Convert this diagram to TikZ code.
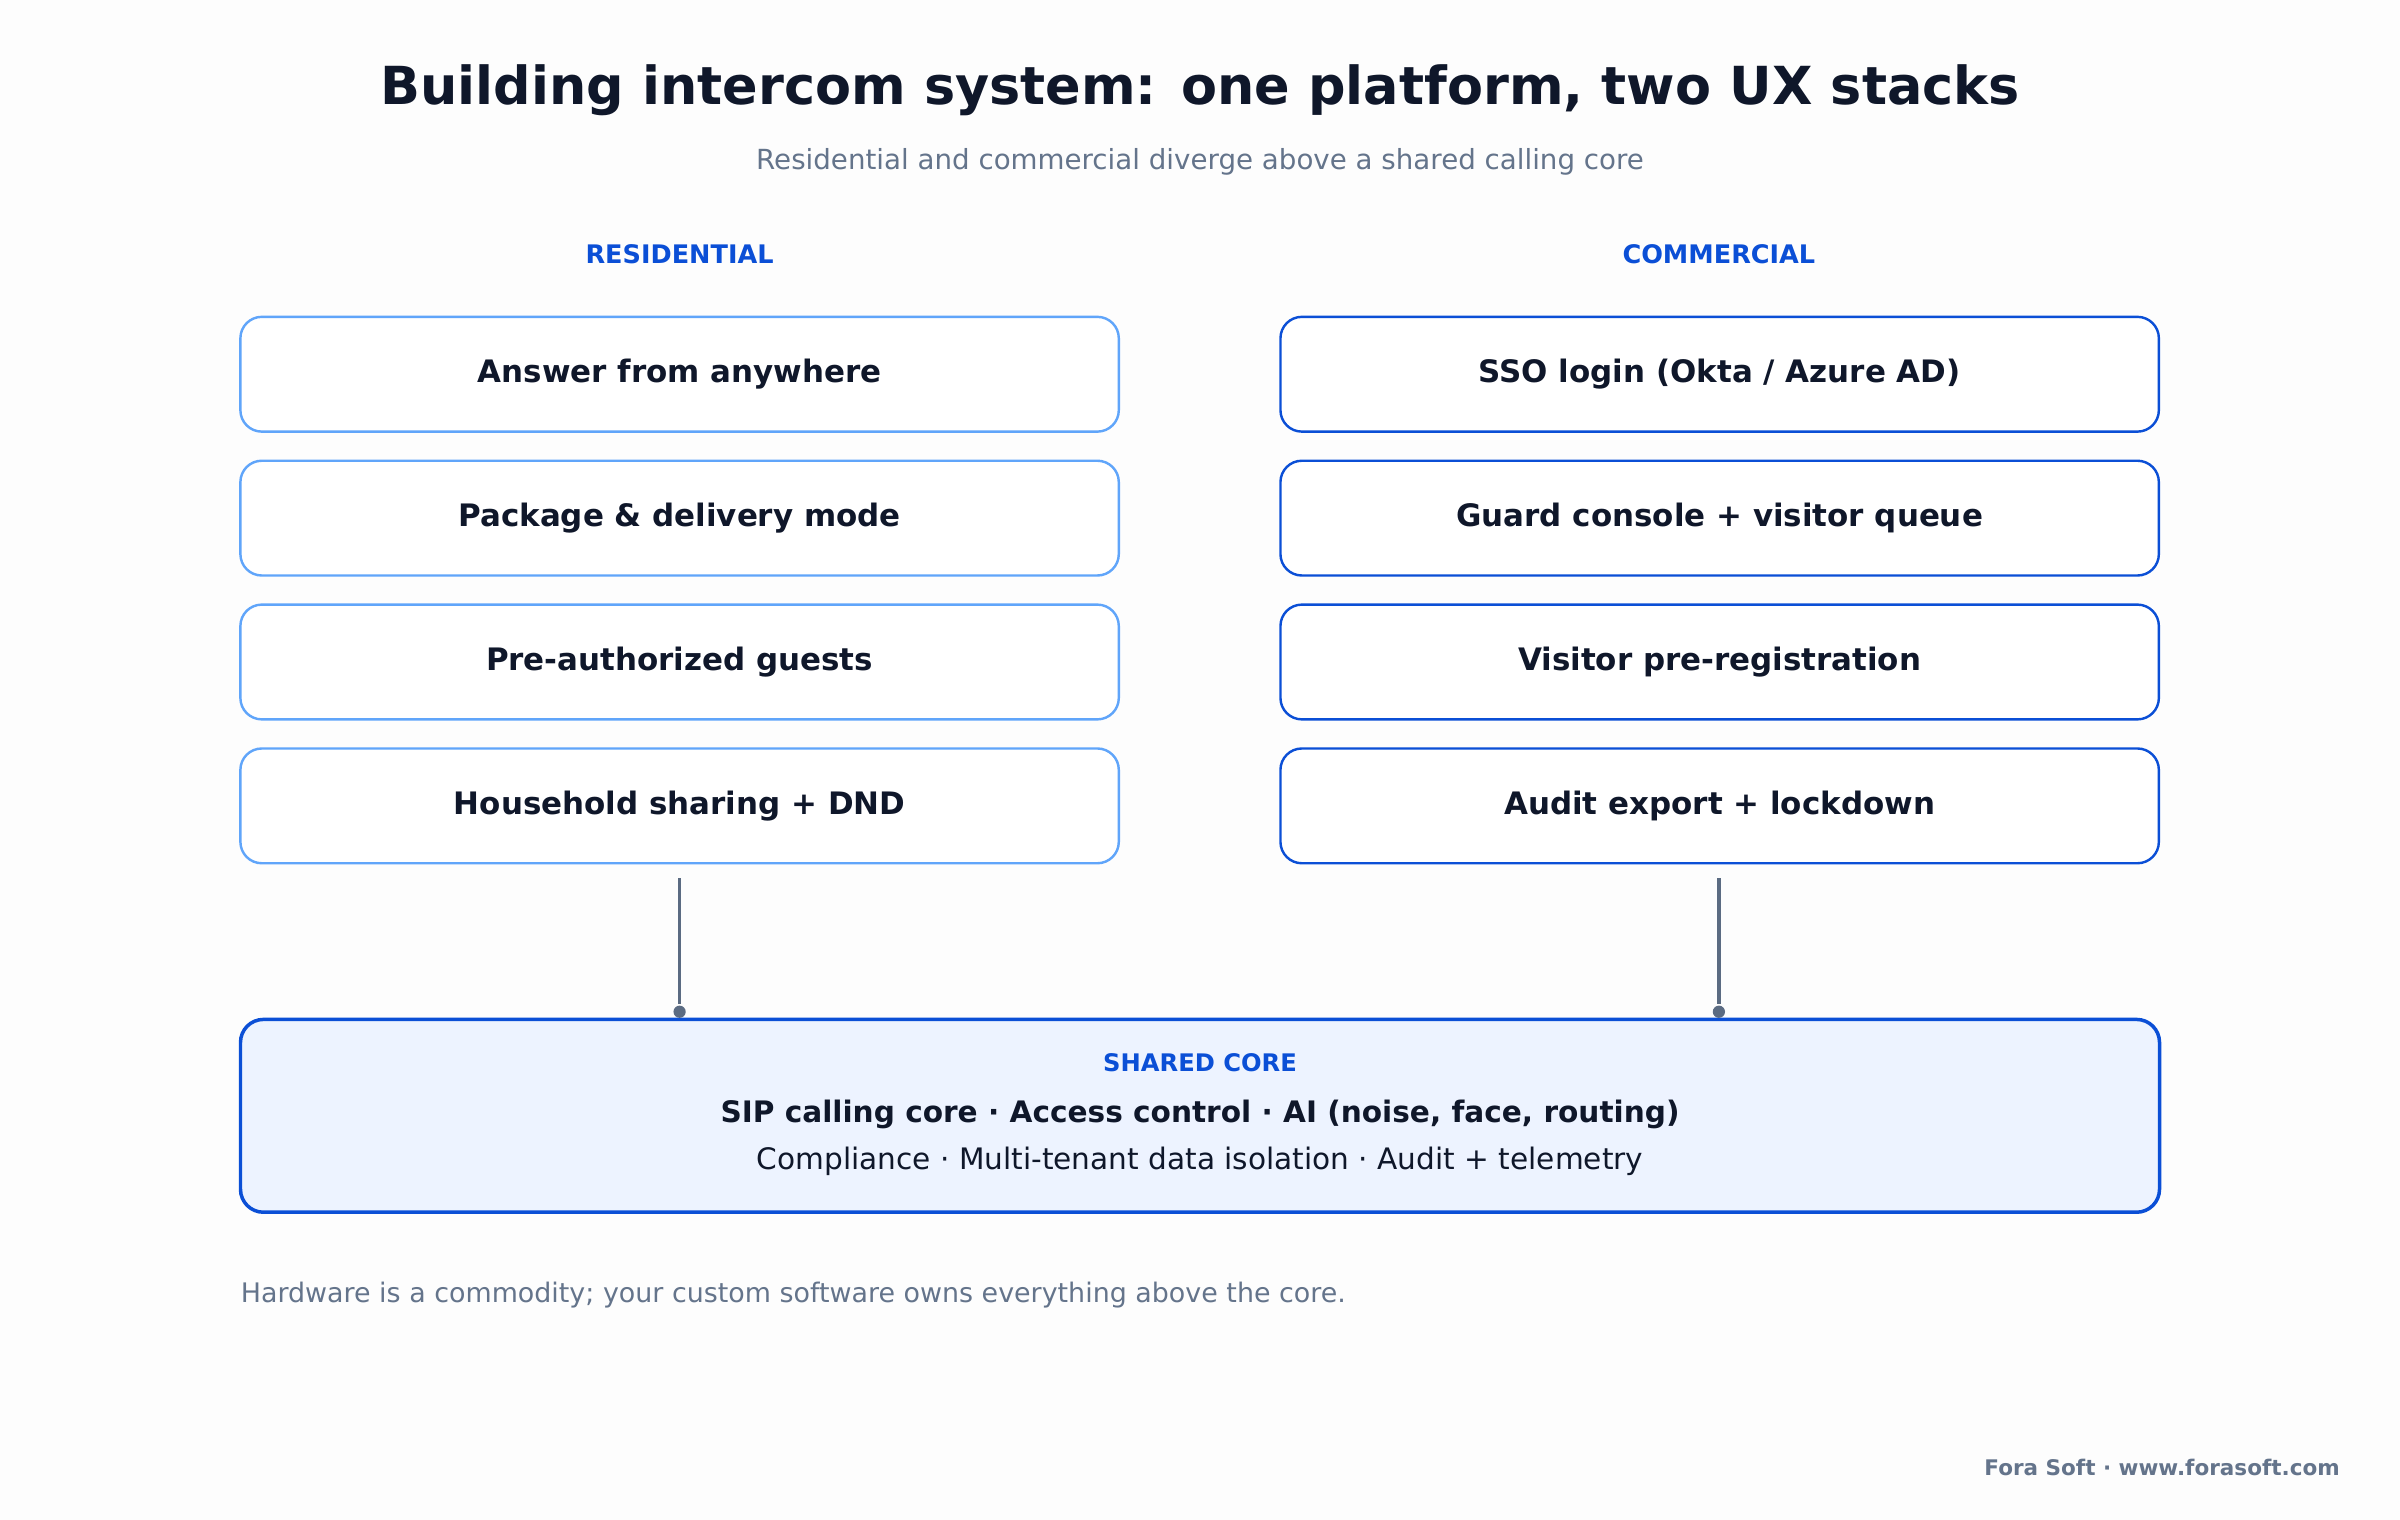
\documentclass[tikz,border=0pt]{standalone}
\usepackage{fontspec}
\setmainfont{DejaVu Sans}
\usetikzlibrary{positioning}
\definecolor{ink}{HTML}{0F172A}
\definecolor{muted}{HTML}{64748B}
\definecolor{accent}{HTML}{0B4FD6}
\definecolor{lightedge}{HTML}{60A5FA}
\definecolor{darkedge}{HTML}{0B4FD6}
\definecolor{corefill}{HTML}{EDF3FF}
\definecolor{linkc}{HTML}{5B6B82}
\definecolor{bg}{HTML}{FDFDFD}
\tikzset{
  feat/.style={draw, rounded corners=0.28cm, line width=0.9pt, fill=white, minimum width=11.48cm, minimum height=1.5cm, text=ink, font=\fontsize{11.5}{13}\selectfont\bfseries},
  res/.style={feat, draw=lightedge},
  com/.style={feat, draw=darkedge},
  head/.style={text=accent, font=\fontsize{9.5}{11}\selectfont\bfseries},
  link/.style={draw=linkc, line width=1.2pt, shorten >=0.1cm},
}
\begin{document}
\begin{tikzpicture}[x=0.02cm,y=-0.02cm]
\fill[bg] (0,0) rectangle (1568,993);
\useasboundingbox (0,0) rectangle (1568,993);
\node[text=ink, font=\fontsize{19.5}{22}\selectfont\bfseries] (title) at (784,59) {Building intercom system: one platform, two UX stacks};
\node[text=muted, font=\fontsize{10.3}{12}\selectfont] (sub) at (784,106) {Residential and commercial diverge above a shared calling core};
\node[head] (hres) at (444,166) {RESIDENTIAL};
\node[head] (hcom) at (1123,166) {COMMERCIAL};
% residential stack
\node[res] (r1) at (444,244.5) {Answer from anywhere};
\node[res] (r2) at (444,338.5) {Package \& delivery mode};
\node[res] (r3) at (444,432.5) {Pre-authorized guests};
\node[res] (r4) at (444,526.5) {Household sharing + DND};
% commercial stack
\node[com] (c1) at (1123.5,244.5) {SSO login (Okta / Azure AD)};
\node[com] (c2) at (1123.5,338.5) {Guard console + visitor queue};
\node[com] (c3) at (1123.5,432.5) {Visitor pre-registration};
\node[com] (c4) at (1123.5,526.5) {Audit export + lockdown};
% shared core
\node[draw=darkedge, fill=corefill, rounded corners=0.3cm, line width=1.3pt, minimum width=25.08cm, minimum height=2.52cm] (core) at (784,729) {};
\node[head, font=\fontsize{9}{11}\selectfont\bfseries] (corehead) at (784,694) {SHARED CORE};
\node[text=ink, font=\fontsize{11}{13}\selectfont\bfseries] (core1) at (784,728) {SIP calling core · Access control · AI (noise, face, routing)};
\node[text=ink, font=\fontsize{11}{13}\selectfont] (core2) at (784,759) {Compliance · Multi-tenant data isolation · Audit + telemetry};
% connectors
\coordinate (pr) at (444,661);
\coordinate (pc) at (1123,661);
\draw[link] ([yshift=-0.18cm]r4.south) -- (pr);
\draw[link] ([yshift=-0.18cm]c4.south -| pc) -- (pc);
\fill[linkc] (pr) circle (4);
\fill[linkc] (pc) circle (4);
\node[text=muted, font=\fontsize{10}{12}\selectfont, anchor=west, inner sep=0] (note) at (157,846) {Hardware is a commodity; your custom software owns everything above the core.};
\node[text=muted, font=\fontsize{8}{10}\selectfont\bfseries, anchor=east, inner sep=0] (credit) at (1529,959) {Fora Soft · www.forasoft.com};
\end{tikzpicture}
\end{document}
